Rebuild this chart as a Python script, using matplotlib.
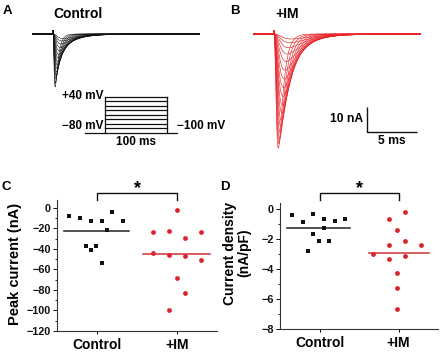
import numpy as np
import matplotlib
matplotlib.use('Agg')
import matplotlib.pyplot as plt
from matplotlib.ticker import MultipleLocator

plt.rcParams['font.family'] = ['Liberation Sans', 'DejaVu Sans']
plt.rcParams['font.weight'] = 'bold'
plt.rcParams['axes.labelweight'] = 'bold'

# ---------------- data ----------------
# Panel A: control Na+ current family (peak nA, activation tau ms, inactivation tau ms)
ctrl_peak_nA = [21.2, 19.6, 18.0, 16.6, 15.2, 13.8, 12.4, 11.0, 9.6, 8.2, 6.8, 5.4, 4.0, 2.8, 1.8]
ctrl_tau_m = [0.09, 0.10, 0.11, 0.12, 0.13, 0.14, 0.15, 0.16, 0.18, 0.20, 0.22, 0.25, 0.28, 0.32, 0.36]
ctrl_tau_h = [0.30, 0.38, 0.46, 0.55, 0.65, 0.75, 0.85, 0.95, 1.05, 1.15, 1.3, 1.45, 1.6, 1.8, 2.0]

# Panel B: +IM Na+ current family
im_peak_nA = [45.6, 44.0, 42.0, 39.5, 37.0, 34.5, 31.5, 28.5, 25.0, 21.5, 18.0, 14.5, 11.0, 8.0, 5.5, 3.5, 2.0]
im_tau_m = [0.22, 0.24, 0.26, 0.28, 0.30, 0.32, 0.34, 0.36, 0.38, 0.40, 0.43, 0.46, 0.50, 0.55, 0.60, 0.65, 0.70]
im_tau_h = [0.45, 0.55, 0.65, 0.75, 0.85, 0.95, 1.05, 1.15, 1.25, 1.35, 1.45, 1.55, 1.7, 1.85, 2.0, 2.3, 2.6]

artifact_nA = 1.6
sweep_ms = (-2.1, 14.7)

# Voltage protocol
hold_ms, step_ms, tail_ms = 32, 100, 16
step_levels_mV = [-80, -65, -50, -35, -20, -5, 10, 25, 40]

# Scale bar
bar_nA, bar_ms = 10, 5

# Panel C: peak current (nA)
c_ctrl_dx = [-0.345, -0.21, -0.076, 0.059, 0.193, 0.328, 0.126, -0.143, -0.076, -0.008, 0.059]
c_ctrl_val = [-8.1, -9.7, -12.9, -12.6, -4.2, -13.2, -21.3, -37.7, -41.0, -36.8, -53.5]
c_im_dx = [0.0, -0.30, -0.10, 0.30, 0.10, -0.30, -0.10, 0.10, 0.30, 0.0, 0.10, -0.10]
c_im_val = [-2.3, -23.2, -22.3, -23.9, -29.7, -44.2, -46.1, -47.1, -51.0, -68.4, -83.2, -99.4]

# Panel D: current density (nA/pF)
d_ctrl_dx = [-0.346, -0.21, -0.08, 0.054, 0.19, 0.32, 0.054, -0.08, -0.012, 0.12, -0.146]
d_ctrl_val = [-0.36, -0.82, -0.29, -0.62, -0.78, -0.64, -1.24, -1.64, -2.11, -2.09, -2.78]
d_im_dx = [0.083, -0.117, -0.017, -0.117, 0.083, 0.28, -0.32, -0.117, 0.083, -0.017, -0.017, -0.017]
d_im_val = [-0.16, -0.67, -1.38, -2.38, -2.11, -2.40, -3.00, -3.31, -3.13, -4.27, -5.24, -6.64]

groups = ['Control', '+IM']

BLACK = '#111111'
RED = '#e8262a'
RED_PT = '#d9262e'

# ---------------- figure ----------------
W, H = 440, 352
fig = plt.figure(figsize=(W / 100, H / 100), dpi=100)


def px_axes(l, t, r, b):
    return fig.add_axes([l / W, 1 - b / H, (r - l) / W, (b - t) / H])


def na_current(t, peak, tm, th):
    tt = np.clip(t, 0, None)
    shape = (1 - np.exp(-tt / tm)) ** 3 * np.exp(-tt / th)
    cur = -peak * shape / shape.max()
    cur = cur + artifact_nA * (t >= 0) * np.exp(-tt / 0.03)
    return cur


t = np.arange(sweep_ms[0], sweep_ms[1], 0.005)


# trace axes share scale: 10 px/ms, 2.5 px/nA, baseline at y=34 px
def trace_axes(left_px):
    top, bot = 20, 165
    right = left_px + (sweep_ms[1] - sweep_ms[0]) * 10
    ax = px_axes(left_px, top, right, bot)
    ax.set_xlim(sweep_ms)
    ax.set_ylim(-(bot - 34) / 2.5, (34 - top) / 2.5)
    ax.axis('off')
    return ax


axA = trace_axes(32)
for p, tm, th in zip(ctrl_peak_nA, ctrl_tau_m, ctrl_tau_h):
    axA.plot(t, na_current(t, p, tm, th), color=BLACK, lw=0.4)

axB = trace_axes(253)
for p, tm, th in zip(im_peak_nA, im_tau_m, im_tau_h):
    axB.plot(t, na_current(t, p, tm, th), color=RED, lw=0.45)

# scale bar in B
sx, sy = 9.3, -39.2
axB.plot([sx, sx, sx + bar_ms], [sy + bar_nA, sy, sy], color=BLACK, lw=1.0, solid_capstyle='butt')
axB.text(sx - 0.4, sy + bar_nA / 2, f'{bar_nA} nA', ha='right', va='center', fontsize=8.7)
axB.text(sx + bar_ms / 2, sy - 1.3, f'{bar_ms} ms', ha='center', va='top', fontsize=8.7)

# voltage protocol inset
axP = px_axes(85, 97, 177, 132.5)
total = hold_ms + step_ms + tail_ms
axP.set_xlim(0, total)
axP.set_ylim(min(step_levels_mV), max(step_levels_mV))
axP.axis('off')
base = min(step_levels_mV)
top_lv = max(step_levels_mV)
axP.plot([0, hold_ms, hold_ms], [base, base, top_lv], color=BLACK, lw=0.9, clip_on=False)
axP.plot([hold_ms + step_ms, hold_ms + step_ms, total], [top_lv, base, base], color=BLACK, lw=0.9, clip_on=False)
for lv in step_levels_mV:
    axP.plot([hold_ms, hold_ms + step_ms], [lv, lv], color=BLACK, lw=0.9, clip_on=False)
axP.annotate('+40 mV', xy=(hold_ms, top_lv), xytext=(-1, 1), textcoords='offset points',
             ha='right', va='center', fontsize=8.5)
axP.annotate('\u221280 mV', xy=(hold_ms, base), xytext=(-1, 5), textcoords='offset points',
             ha='right', va='center', fontsize=8.5)
axP.annotate('\u2212100 mV', xy=(total, base), xytext=(0, 5), textcoords='offset points',
             ha='left', va='center', fontsize=8.5)
axP.annotate('100 ms', xy=(hold_ms + step_ms / 2, base), xytext=(0, -2.5), textcoords='offset points',
             ha='center', va='top', fontsize=8.5)

# titles and panel letters
fig.text(53 / W, 1 - 18.5 / H, 'Control', fontsize=10, ha='left', va='baseline')
fig.text(275 / W, 1 - 18.5 / H, '+IM', fontsize=10, ha='left', va='baseline')
for lab, x, y in [('A', 3, 13.5), ('B', 230, 13.5), ('C', 2, 190.5), ('D', 220, 190.5)]:
    fig.text(x / W, 1 - y / H, lab, fontsize=9.5, ha='left', va='baseline')


def dot_panel(ax, cdx, cval, idx, ival, ylim, major, minor, half_c, half_i, brk):
    ax.set_xlim(0.5, 2.5)
    ax.set_ylim(*ylim)
    for s in ['top', 'right']:
        ax.spines[s].set_visible(False)
    for s in ['left', 'bottom']:
        ax.spines[s].set_color('#333333')
        ax.spines[s].set_linewidth(0.8)
    ax.scatter(1 + np.array(cdx), cval, marker='s', s=8, color=BLACK, linewidths=0, zorder=3)
    ax.scatter(2 + np.array(idx), ival, marker='o', s=12, color=RED_PT, linewidths=0, zorder=3)
    mc, mi = np.mean(cval), np.mean(ival)
    ax.plot([1 - half_c[0], 1 + half_c[1]], [mc, mc], color='#222222', lw=1.1)
    ax.plot([2 - half_i[0], 2 + half_i[1]], [mi, mi], color='#d03038', lw=1.1)
    ax.set_xticks([1, 2])
    ax.set_xticklabels(groups, fontsize=10)
    ax.yaxis.set_major_locator(MultipleLocator(major))
    ax.yaxis.set_minor_locator(MultipleLocator(minor))
    ax.tick_params(axis='y', which='major', length=3, width=0.7, pad=1.5, labelsize=7.8, colors='#111111')
    ax.tick_params(axis='y', which='minor', length=1.6, width=0.6)
    ax.tick_params(axis='x', length=2, width=0.7, pad=3)
    lo, hi = brk
    ax.plot([1, 1, 2, 2], [lo, hi, hi, lo], color=BLACK, lw=1.0, clip_on=False)
    ax.annotate('*', xy=(1.5, hi), xytext=(0, -3), textcoords='offset points',
                ha='center', va='bottom', fontsize=13, annotation_clip=False)


axC = px_axes(57, 200, 217, 331)
dot_panel(axC, c_ctrl_dx, c_ctrl_val, c_im_dx, c_im_val, (-120, 7.5), 20, 10,
          (0.41, 0.40), (0.43, 0.41), (7.5, 14.0))
axC.set_yticks([0, -20, -40, -60, -80, -100, -120])
fig.text(15 / W, 1 - 264 / H, 'Peak current (nA)', rotation=90, ha='center', va='center', fontsize=10.5)

axD = px_axes(280, 203.3, 438, 329.3)
dot_panel(axD, d_ctrl_dx, d_ctrl_val, d_im_dx, d_im_val, (-8, 0.4), 2, 1,
          (0.417, 0.388), (0.375, 0.388), (0.62, 1.07))
axD.set_yticks([0, -2, -4, -6, -8])
fig.text(237 / W, 1 - 253 / H, 'Current density\n(nA/pF)', rotation=90, ha='center', va='center',
         fontsize=10, multialignment='center', linespacing=1.05)

fig.savefig('out.png', dpi=100)
